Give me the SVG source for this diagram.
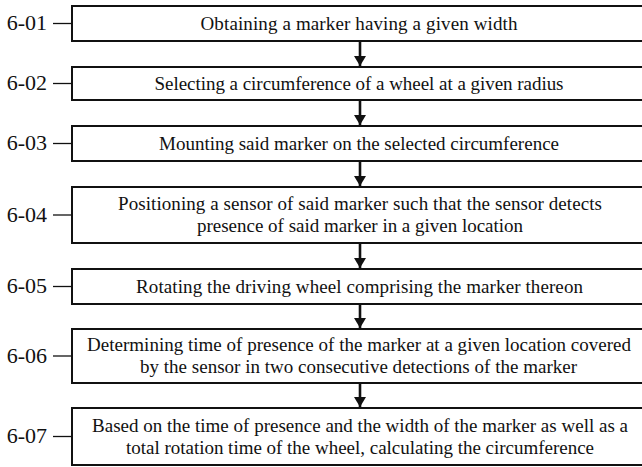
<svg xmlns="http://www.w3.org/2000/svg" width="642" height="467" viewBox="0 0 642 467">
  <style>
    .box { fill: #ffffff; stroke: #111111; stroke-width: 2; }
    .txt { font-family: "Liberation Serif", "Times New Roman", serif; font-size: 19px; fill: #111111; text-anchor: middle; }
    .lbl { font-family: "Liberation Serif", "Times New Roman", serif; font-size: 22px; fill: #111111; text-anchor: end; }
    .lead { stroke: #111111; stroke-width: 1.3; }
    .conn { stroke: #111111; stroke-width: 2.6; fill: none; }
  </style>
  <defs>
    <marker id="arrow" viewBox="0 0 10 12" refX="10" refY="6" markerWidth="10" markerHeight="12" markerUnits="userSpaceOnUse" orient="auto">
      <path d="M0,0 L10,6 L0,12 Z" fill="#111111"/>
    </marker>
  </defs>
  <rect width="642" height="467" fill="#ffffff"/>

  <g id="connectors">
    <line class="conn" x1="360" y1="42" x2="360" y2="66" marker-end="url(#arrow)"/>
    <line class="conn" x1="360" y1="101" x2="360" y2="125" marker-end="url(#arrow)"/>
    <line class="conn" x1="360" y1="162" x2="360" y2="186" marker-end="url(#arrow)"/>
    <line class="conn" x1="360" y1="244" x2="360" y2="268" marker-end="url(#arrow)"/>
    <line class="conn" x1="360" y1="305" x2="360" y2="328" marker-end="url(#arrow)"/>
    <line class="conn" x1="360" y1="384" x2="360" y2="407" marker-end="url(#arrow)"/>
  </g>

  <g id="step-6-01">
    <rect class="box" x="72" y="6" width="580" height="35"/>
    <line class="lead" x1="53" y1="23.5" x2="72" y2="23.5"/>
    <text class="lbl" x="47" y="30">6-01</text>
    <text class="txt" x="359" y="29.5" textLength="317" lengthAdjust="spacing">Obtaining a marker having a given width</text>
  </g>

  <g id="step-6-02">
    <rect class="box" x="72" y="67" width="580" height="33"/>
    <line class="lead" x1="53" y1="83.5" x2="72" y2="83.5"/>
    <text class="lbl" x="47" y="90">6-02</text>
    <text class="txt" x="359" y="89.5" textLength="409" lengthAdjust="spacing">Selecting a circumference of a wheel at a given radius</text>
  </g>

  <g id="step-6-03">
    <rect class="box" x="72" y="126" width="580" height="35"/>
    <line class="lead" x1="53" y1="143.5" x2="72" y2="143.5"/>
    <text class="lbl" x="47" y="150">6-03</text>
    <text class="txt" x="359" y="149.5" textLength="400" lengthAdjust="spacing">Mounting said marker on the selected circumference</text>
  </g>

  <g id="step-6-04">
    <rect class="box" x="72" y="187" width="580" height="56"/>
    <line class="lead" x1="53" y1="215" x2="72" y2="215"/>
    <text class="lbl" x="47" y="221.5">6-04</text>
    <text class="txt" x="360" y="210" textLength="484" lengthAdjust="spacing">Positioning a sensor of said marker such that the sensor detects</text>
    <text class="txt" x="360" y="232" textLength="326" lengthAdjust="spacing">presence of said marker in a given location</text>
  </g>

  <g id="step-6-05">
    <rect class="box" x="72" y="269" width="580" height="35"/>
    <line class="lead" x1="53" y1="286.5" x2="72" y2="286.5"/>
    <text class="lbl" x="47" y="293">6-05</text>
    <text class="txt" x="359.5" y="292.5" textLength="447" lengthAdjust="spacing">Rotating the driving wheel comprising the marker thereon</text>
  </g>

  <g id="step-6-06">
    <rect class="box" x="72" y="329" width="580" height="54"/>
    <line class="lead" x1="53" y1="356" x2="72" y2="356"/>
    <text class="lbl" x="47" y="362.5">6-06</text>
    <text class="txt" x="359" y="351" textLength="544" lengthAdjust="spacing">Determining time of presence of the marker at a given location covered</text>
    <text class="txt" x="358.5" y="373" textLength="437" lengthAdjust="spacing">by the sensor in two consecutive detections of the marker</text>
  </g>

  <g id="step-6-07">
    <rect class="box" x="72" y="408" width="580" height="57"/>
    <line class="lead" x1="53" y1="436.5" x2="72" y2="436.5"/>
    <text class="lbl" x="47" y="443">6-07</text>
    <text class="txt" x="360" y="431.5" textLength="536" lengthAdjust="spacing">Based on the time of presence and the width of the marker as well as a</text>
    <text class="txt" x="360" y="453.5" textLength="468" lengthAdjust="spacing">total rotation time of the wheel, calculating the circumference</text>
  </g>
</svg>
